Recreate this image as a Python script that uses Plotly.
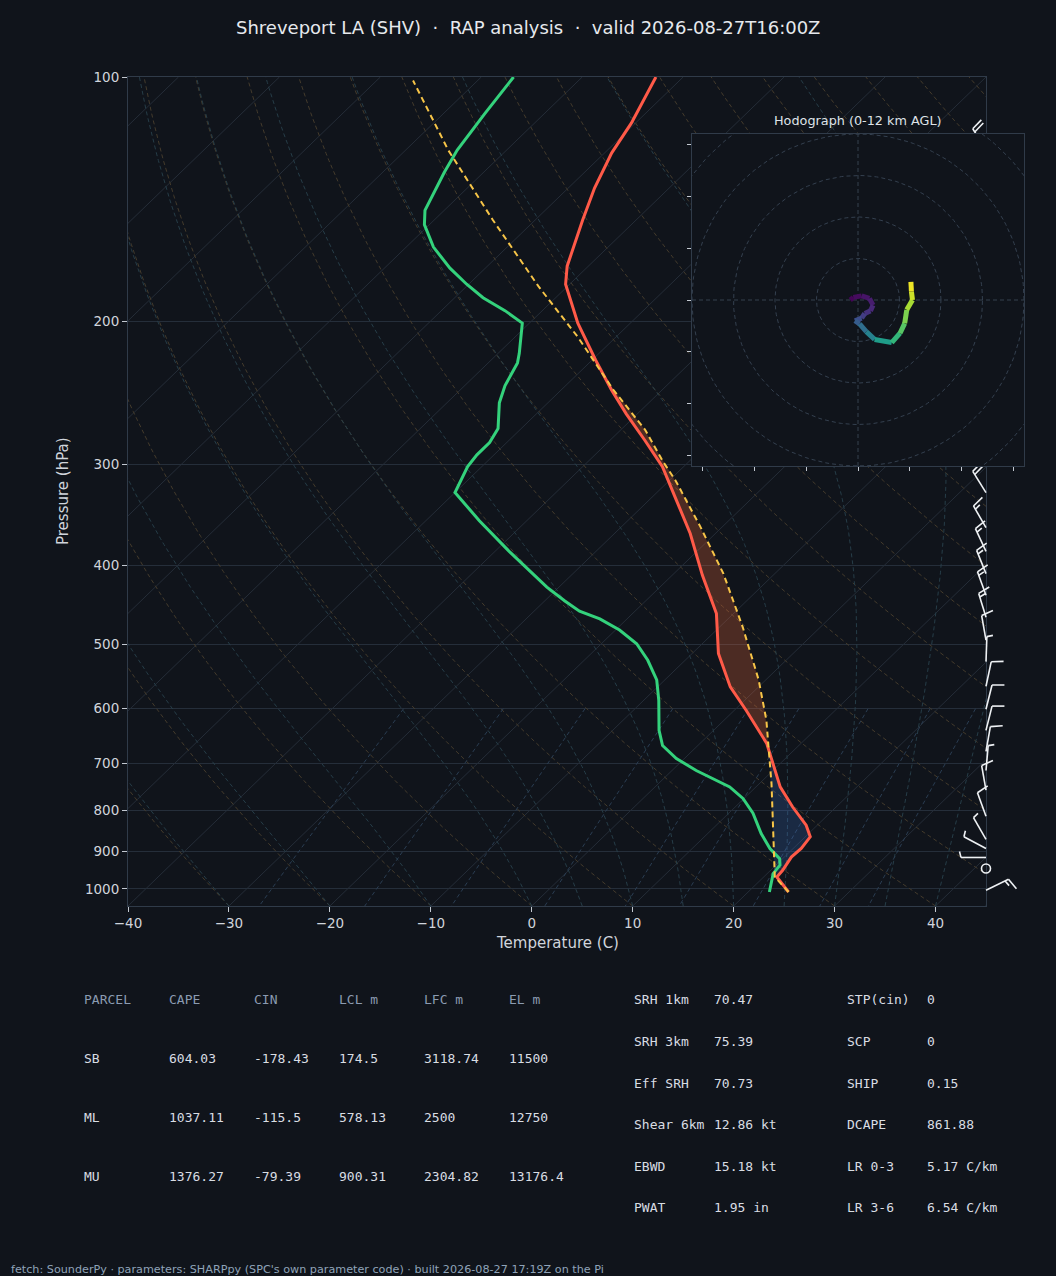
import numpy as np
import plotly.graph_objects as go
from plotly.colors import sample_colorscale

# ---------------- sounding data ----------------
PRES_T = [1009, 967, 949, 914, 892, 863, 835, 793, 749, 662, 603, 564, 513, 458,
          411, 365, 332, 302, 280, 260, 243, 223, 201, 180, 171, 150, 137, 124, 114, 100]
TEMP_C = [24.0, 21.3, 21.2, 20.7, 20.8, 20.5, 18.9, 15.7, 12.4, 6.6, 1.2, -2.8, -7.4, -11.7,
          -17.0, -22.5, -27.3, -32.1, -36.6, -41.1, -45.0, -49.7, -55.2, -60.4, -62.1, -65.3,
          -67.4, -69.3, -70.4, -72.7]

PRES_TD = [1009, 976, 958, 935, 918, 892, 855, 807, 774, 749, 715, 691, 666, 638, 586,
           553, 523, 499, 480, 465, 455, 442, 425, 384, 352, 325, 302, 292, 282, 271, 252,
           240, 225, 219, 201, 194, 187, 180, 172, 162, 152, 146, 131, 123, 111, 100]
DEWP_C = [22.1, 21.1, 20.6, 20.4, 19.7, 17.7, 15.3, 12.4, 9.9, 7.4, 2.4, -0.8, -3.5, -5.4, -8.5,
          -10.8, -13.7, -16.5, -19.6, -22.7, -25.5, -28.0, -31.2, -38.6, -44.7, -50.0, -51.4,
          -51.7, -51.7, -52.3, -54.8, -56.0, -57.1, -57.9, -60.7, -63.7, -67.2, -70.2, -73.5,
          -77.3, -80.5, -81.9, -83.9, -84.9, -85.9, -86.8]

PRES_PCL = [1009, 967, 855, 742, 662, 620, 553, 476, 409, 358, 314, 298, 272, 243, 209,
            181, 150, 123, 101]
PARCEL_C = [24.0, 21.1, 16.5, 11.2, 6.75, 4.2, -0.7, -7.7, -15.1, -22.2, -29.4, -32.5, -37.6,
            -44.8, -53.8, -62.9, -74.2, -85.8, -96.4]

BARB_P = [1004, 944, 915, 892, 869, 814, 756, 715, 677, 638, 601, 563, 525, 494, 463,
          435, 409, 384, 359, 325, 123]
BARB_DIR = [64, 0, 270, 298, 330, 340, 350, 5, 10, 14, 14, 12, 2, 350, 343, 340, 338, 335,
            330, 328, 328]
BARB_KT = [15, 0, 5, 5, 5, 10, 10, 5, 10, 10, 10, 10, 5, 10, 15, 15, 15, 15, 15, 20, 20]

HODO_Z_KM = [0.0, 0.2, 0.5, 0.8, 1.1, 1.5, 1.9, 2.5, 3.2, 3.8, 4.8, 5.8, 7.4, 8.4, 9.2,
             10.0, 10.8, 11.4, 12.0]
HODO_U_KT = [-1.5, -0.9, 0.7, 2.2, 2.9, 2.4, 1.3, 0.7, -0.6, 0.3, 1.6, 3.2, 6.5, 8.1, 9.0,
             9.4, 10.5, 10.3, 10.2]
HODO_V_KT = [0.0, 0.5, 0.8, 0.3, -1.0, -2.1, -2.6, -3.5, -4.0, -4.6, -6.1, -7.6, -8.2, -6.4,
             -4.5, -1.9, 0.0, 1.6, 3.5]
HODO_RINGS = [8, 16, 24, 32, 40]
HODO_TICKS = [-30, -20, -10, 0, 10, 20, 30]

X_TICKS = [-40, -30, -20, -10, 0, 10, 20, 30, 40]
X_TICK_TEXT = ['\u221240', '\u221230', '\u221220', '\u221210', '0', '10', '20', '30', '40']
P_TICKS = [100, 200, 300, 400, 500, 600, 700, 800, 900, 1000]

PARCEL_HEAD = ['PARCEL', 'CAPE', 'CIN', 'LCL m', 'LFC m', 'EL m']
PARCEL_ROWS = [['SB', '604.03', '-178.43', '174.5', '3118.74', '11500'],
               ['ML', '1037.11', '-115.5', '578.13', '2500', '12750'],
               ['MU', '1376.27', '-79.39', '900.31', '2304.82', '13176.4']]
IDX_LEFT = [('SRH 1km', '70.47'), ('SRH 3km', '75.39'), ('Eff SRH', '70.73'),
            ('Shear 6km', '12.86 kt'), ('EBWD', '15.18 kt'), ('PWAT', '1.95 in')]
IDX_RIGHT = [('STP(cin)', '0'), ('SCP', '0'), ('SHIP', '0.15'), ('DCAPE', '861.88'),
             ('LR 0-3', '5.17 C/km'), ('LR 3-6', '6.54 C/km')]

TITLE = ('Shreveport LA (SHV) \u00a0\u00b7\u00a0 RAP analysis \u00a0\u00b7\u00a0 '
         'valid 2026-08-27T16:00Z')
FOOTER = ("fetch: SounderPy \u00b7 parameters: SHARPpy (SPC's own parameter code) \u00b7 "
          "built 2026-08-27 17:19Z on the Pi")

# ---------------- geometry / style ----------------
W, H = 1056, 1276
PL, PR, PT, PB = 128, 986, 77, 906          # skew-T plot area (px)
HL, HR, HT, HB = 692, 1024, 134, 466        # hodograph area (px)
P_BOT, P_TOP = 1050.0, 100.0
X_MIN, X_MAX = -40.0, 45.0

BG = '#10141b'
AX = '#303b49'
TK = '#c3c9d1'
GRID = '#252e3a'
TICK = '#d0d5dc'
C_T, C_TD, C_P = '#ff5a48', '#34d27c', '#f7c548'
MONO = 'DejaVu Sans Mono'


def skew_x(t, p):
    p = np.asarray(p, float)
    frac = np.log10(P_BOT / p) / np.log10(P_BOT / P_TOP)
    return np.asarray(t, float) + (X_MAX - X_MIN) * frac


def px_x(x):
    return x / W


def px_y(y):
    return 1 - y / H


fig = go.Figure()

# ---------------- background lines ----------------
xs, ys = [], []
for t in range(-130, 51, 10):
    xs += list(skew_x([t, t], [P_BOT, P_TOP])) + [None]
    ys += [P_BOT, P_TOP, None]
fig.add_trace(go.Scatter(x=xs, y=ys, mode='lines', line=dict(color='#252d38', width=1),
                         hoverinfo='skip'))

pg_bg = np.geomspace(P_BOT, P_TOP, 120)
xs, ys = [], []
for t0 in range(-40, 246, 10):
    tt = (t0 + 273.15) * (pg_bg / P_BOT) ** 0.2857 - 273.15
    xs += list(skew_x(tt, pg_bg)) + [None]
    ys += list(pg_bg) + [None]
fig.add_trace(go.Scatter(x=xs, y=ys, mode='lines',
                         line=dict(color='#443b2c', width=1, dash='4px,3px'), hoverinfo='skip'))


def moist_adiabats(t0_c, p):
    Rd, Cp, Lv, eps = 287.04, 1005.7, 2.501e6, 0.622

    def dTdp(Tk, pp):
        e = 6.112 * np.exp(17.67 * (Tk - 273.15) / (Tk - 29.65))
        rs = eps * e / (pp - e)
        return (Rd * Tk + Lv * rs) / (Cp + Lv * Lv * rs * eps / (Rd * Tk * Tk)) / pp

    T = np.asarray(t0_c, float) + 273.15
    out = [T.copy()]
    for i in range(len(p) - 1):
        n = 4
        hh = (p[i + 1] - p[i]) / n
        pp = p[i]
        for _ in range(n):
            k1 = dTdp(T, pp)
            k2 = dTdp(T + 0.5 * hh * k1, pp + 0.5 * hh)
            k3 = dTdp(T + 0.5 * hh * k2, pp + 0.5 * hh)
            k4 = dTdp(T + hh * k3, pp + hh)
            T = T + hh * (k1 + 2 * k2 + 2 * k3 + k4) / 6
            pp += hh
        out.append(T.copy())
    return np.array(out) - 273.15


moist_t0 = np.concatenate((np.arange(-40, 0, 10), np.arange(0, 46, 5)))
pm = np.geomspace(P_BOT, P_TOP, 150)
mt = moist_adiabats(moist_t0, pm)
xs, ys = [], []
for j in range(len(moist_t0)):
    xs += list(skew_x(mt[:, j], pm)) + [None]
    ys += list(pm) + [None]
fig.add_trace(go.Scatter(x=xs, y=ys, mode='lines',
                         line=dict(color='#263d48', width=1, dash='4px,3px'), hoverinfo='skip'))

mix_w = [0.0004, 0.001, 0.002, 0.004, 0.007, 0.01, 0.016, 0.024, 0.032]
pw = np.linspace(600, P_BOT, 30)
xs, ys = [], []
for w in mix_w:
    e = w * pw / (0.622 + w)
    a = np.log(e / 6.112)
    td = 243.5 * a / (17.67 - a)
    xs += list(skew_x(td, pw)) + [None]
    ys += list(pw) + [None]
fig.add_trace(go.Scatter(x=xs, y=ys, mode='lines',
                         line=dict(color='#2a3d52', width=1, dash='4px,3px'), hoverinfo='skip'))


# ---------------- CAPE / CIN shading ----------------
def interp_prof(pg, pres, vals):
    lp = np.log10(np.asarray(pres, float))[::-1]
    return np.interp(np.log10(pg), lp, np.asarray(vals, float)[::-1])


pg = np.geomspace(PRES_T[0], 200, 600)
tg = interp_prof(pg, PRES_T, TEMP_C)
pcg = interp_prof(pg, PRES_PCL, PARCEL_C)


def runs(mask):
    out, start = [], None
    for i, m in enumerate(mask):
        if m and start is None:
            start = i
        if (not m) and start is not None:
            out.append((start, i - 1))
            start = None
    if start is not None:
        out.append((start, len(mask) - 1))
    return out


def add_fill(mask, color):
    for a, b in runs(mask):
        if b - a < 1:
            continue
        a0, b1 = max(a - 1, 0), min(b + 1, len(pg) - 1)
        sl = slice(a0, b1 + 1)
        xp = skew_x(pcg[sl], pg[sl])
        xt = skew_x(tg[sl], pg[sl])
        fig.add_trace(go.Scatter(x=list(xp) + list(xt[::-1]),
                                 y=list(pg[sl]) + list(pg[sl][::-1]),
                                 mode='lines', fill='toself', fillcolor=color,
                                 line=dict(width=0), hoverinfo='skip'))


add_fill((pcg > tg) & (pg < 700), 'rgba(255,110,60,0.25)')
add_fill((pcg < tg) & (pg > 600), 'rgba(70,130,230,0.2)')

# ---------------- profiles ----------------
fig.add_trace(go.Scatter(x=skew_x(DEWP_C, PRES_TD), y=PRES_TD, mode='lines',
                         line=dict(color=C_TD, width=3), name='Dewpoint'))
fig.add_trace(go.Scatter(x=skew_x(TEMP_C, PRES_T), y=PRES_T, mode='lines',
                         line=dict(color=C_T, width=3), name='Temperature'))
fig.add_trace(go.Scatter(x=skew_x(PARCEL_C, PRES_PCL), y=PRES_PCL, mode='lines',
                         line=dict(color=C_P, width=2, dash='6px,4px'), name='Parcel'))

# ---------------- wind barbs (pixel-unit axes x2/y2) ----------------
PLOT_H = PB - PT
BASE_X = PR - PL


def y_px(p):
    return PLOT_H * np.log10(P_BOT / p) / np.log10(P_BOT / P_TOP)


L = 25.0
bx, by, cx, cy = [], [], [], []
for p, wd, sp in zip(BARB_P, BARB_DIR, BARB_KT):
    base = np.array([BASE_X, y_px(p)])
    r = int(5 * round(sp / 5.0))
    if r == 0:
        cx.append(base[0])
        cy.append(base[1])
        continue
    th = np.deg2rad(wd)
    d = np.array([np.sin(th), np.cos(th)])
    f = np.array([d[1], -d[0]])
    tip = base + L * d
    bx += [base[0], tip[0], None]
    by += [base[1], tip[1], None]
    nfull, half = r // 10, (r % 10) >= 5
    off = 0.0
    for _ in range(nfull):
        P0 = tip - off * d
        E = P0 + 0.48 * L * f + 0.12 * L * d
        bx += [P0[0], E[0], None]
        by += [P0[1], E[1], None]
        off += 0.15 * L
    if half:
        P0 = tip - off * d
        E = P0 + 0.24 * L * f + 0.06 * L * d
        bx += [P0[0], E[0], None]
        by += [P0[1], E[1], None]

fig.add_trace(go.Scatter(x=bx, y=by, mode='lines', line=dict(color='#eef1f4', width=1.6),
                         xaxis='x2', yaxis='y2', hoverinfo='skip'))
fig.add_trace(go.Scatter(x=cx, y=cy, mode='markers', cliponaxis=False,
                         marker=dict(symbol='circle-open', size=9, color='#eef1f4',
                                     line=dict(color='#eef1f4', width=1.6)),
                         xaxis='x2', yaxis='y2', hoverinfo='skip'))

# ---------------- hodograph (x3/y3) ----------------
R = 32
fig.add_trace(go.Scatter(x=[-R, R, R, -R, -R], y=[-R, -R, R, R, -R], mode='lines',
                         fill='toself', fillcolor=BG, line=dict(width=0),
                         xaxis='x3', yaxis='y3', hoverinfo='skip'))
th = np.linspace(0, 2 * np.pi, 200)
xs, ys = [], []
for rr in HODO_RINGS:
    xs += list(rr * np.cos(th)) + [None]
    ys += list(rr * np.sin(th)) + [None]
xs += [-R, R, None, 0, 0]
ys += [0, 0, None, -R, R]
fig.add_trace(go.Scatter(x=xs, y=ys, mode='lines',
                         line=dict(color='#34404f', width=1, dash='4px,3px'),
                         xaxis='x3', yaxis='y3', hoverinfo='skip'))
zmax = max(HODO_Z_KM)
for i in range(len(HODO_U_KT) - 1):
    zc = 0.5 * (HODO_Z_KM[i] + HODO_Z_KM[i + 1]) / zmax
    col = sample_colorscale('Viridis', [zc])[0]
    fig.add_trace(go.Scatter(x=HODO_U_KT[i:i + 2], y=HODO_V_KT[i:i + 2], mode='lines',
                             line=dict(color=col, width=5), xaxis='x3', yaxis='y3',
                             hoverinfo='skip'))

# ---------------- annotations ----------------
ann = []


def text(x, y, s, size=13, color=TICK, family='DejaVu Sans', xanchor='left', angle=0):
    if xanchor == 'left':
        x -= 2
    ann.append(dict(x=px_x(x), y=px_y(y), xref='paper', yref='paper', text=s,
                    showarrow=False, xanchor=xanchor, yanchor='middle', textangle=angle,
                    font=dict(size=size, color=color, family=family)))


text(528, 27, TITLE, size=18, color='#e6e9ed', xanchor='center')
text(858, 120, 'Hodograph (0-12 km AGL)', size=12.8, color='#dfe3e8', xanchor='center')
text(557, 943, 'Temperature (C)', size=15, color=TICK, xanchor='center')
text(63, 491, 'Pressure (hPa)', size=15, color=TICK, xanchor='center', angle=-90)

col_x = [84, 169, 254, 339, 424, 509]
for cxp, h in zip(col_x, PARCEL_HEAD):
    text(cxp, 999, h, size=13, color='#8b9bb1', family=MONO)
for r_i, row in enumerate(PARCEL_ROWS):
    yy = 1058 + 59 * r_i
    for cxp, v in zip(col_x, row):
        text(cxp, yy, v, size=13, color='#d9dde3', family=MONO)

row_y = [999, 1041, 1083, 1124, 1166, 1207]
for yy, (lab, val) in zip(row_y, IDX_LEFT):
    text(634, yy, lab, size=13, color='#d9dde3', family=MONO)
    text(714, yy, val, size=13, color='#d9dde3', family=MONO)
for yy, (lab, val) in zip(row_y, IDX_RIGHT):
    text(847, yy, lab, size=13, color='#d9dde3', family=MONO)
    text(927, yy, val, size=13, color='#d9dde3', family=MONO)

text(11, 1269, FOOTER, size=11.2, color='#8fa3b8')

# ---------------- layout ----------------
fig.update_layout(
    width=W, height=H, margin=dict(l=0, r=0, t=0, b=0, pad=0, autoexpand=False),
    paper_bgcolor=BG, plot_bgcolor='rgba(0,0,0,0)', showlegend=False,
    font=dict(family='DejaVu Sans', color=TICK, size=13),
    annotations=ann,
    xaxis=dict(domain=[PL / W, PR / W], range=[X_MIN, X_MAX], tickmode='array',
               tickvals=X_TICKS, ticktext=X_TICK_TEXT, ticks='outside', ticklen=5,
               tickcolor=TK, showline=True, linecolor=AX, mirror=True, showgrid=False,
               zeroline=False, anchor='y', automargin=False,
               tickfont=dict(size=13.5, color=TICK)),
    yaxis=dict(domain=[1 - PB / H, 1 - PT / H], type='log',
               range=[np.log10(P_BOT), np.log10(P_TOP)], tickmode='array',
               tickvals=P_TICKS, ticktext=[str(p) for p in P_TICKS], ticks='outside',
               ticklen=5, tickcolor=TK, showgrid=True, gridcolor=GRID, gridwidth=1,
               showline=True, linecolor=AX, mirror=True, zeroline=False, anchor='x',
               automargin=False, tickfont=dict(size=13.5, color=TICK)),
    xaxis2=dict(domain=[PL / W, 1.0], range=[0, W - PL], visible=False, anchor='y2',
                automargin=False),
    yaxis2=dict(domain=[1 - PB / H, 1 - PT / H], range=[0, PLOT_H], visible=False,
                anchor='x2', automargin=False),
    xaxis3=dict(domain=[HL / W, HR / W], range=[-R, R], tickmode='array', tickvals=HODO_TICKS,
                ticks='outside', ticklen=4, tickcolor=TK, showticklabels=False,
                showline=True, linecolor=AX, mirror=True, showgrid=False, zeroline=False,
                anchor='y3', automargin=False),
    yaxis3=dict(domain=[1 - HB / H, 1 - HT / H], range=[-R, R], tickmode='array',
                tickvals=HODO_TICKS, ticks='outside', ticklen=4, tickcolor=TK,
                showticklabels=False, showline=True, linecolor=AX, mirror=True,
                showgrid=False, zeroline=False, anchor='x3', automargin=False),
)

fig.write_html("out.html", config={'displayModeBar': False},
               post_script="document.body.style.margin='0';"
                           "document.body.style.overflow='hidden';")
